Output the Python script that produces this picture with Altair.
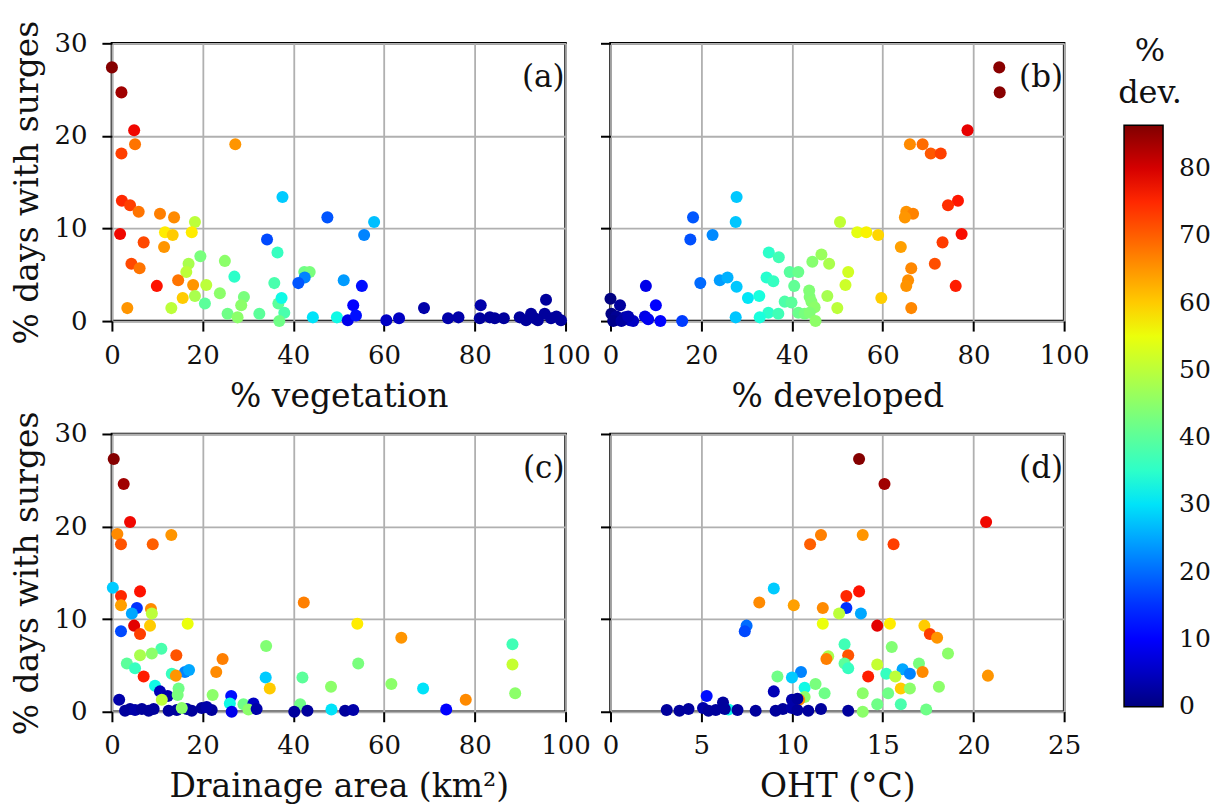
import altair as alt
import pandas as pd

FONT = "DejaVu Serif"

# ---------------- data ----------------
# (a) % vegetation vs % days with surges, colour = % developed
veg_x = [0, 2.1, 4.9, 5.1, 2.1, 27.2, 2.2, 4.0, 5.9, 10.6, 13.7, 18.3, 1.8, 11.7, 13.4, 17.6,
         37.6, 47.5, 57.8, 55.6, 34.2, 7.0, 11.5, 36.5, 19.5, 16.9, 24.9, 4.3, 6.1, 16.4,
         42.4, 43.6, 42.5, 27.0, 41.1, 51.1, 35.8, 55.1, 9.9, 14.6, 17.9, 20.8, 23.8, 15.6,
         18.3, 29.1, 28.5, 20.5, 36.7, 37.4, 3.4, 13.1, 25.5, 27.7, 32.5, 38.0, 36.9, 44.3,
         49.6, 53.2, 52.0, 53.8, 60.5, 63.3, 68.8, 74.1, 76.4, 81.3, 81.1, 83.3, 84.4, 86.4,
         89.9, 91.3, 92.4, 95.7, 95.4, 93.9, 96.8, 99.0, 98.0, 93.2]
veg_y = [27.4, 24.7, 20.6, 19.1, 18.1, 19.1, 13.0, 12.5, 11.8, 11.6, 11.2, 10.7, 9.4, 9.6, 9.3, 9.6,
         13.4, 11.2, 10.7, 9.3, 8.8, 8.5, 8.0, 7.4, 7.0, 6.2, 6.5, 6.2, 5.7, 5.3,
         5.3, 5.3, 4.7, 4.8, 4.1, 4.4, 4.1, 3.8, 3.8, 4.4, 3.9, 3.9, 3.0, 2.5,
         2.7, 2.6, 1.7, 1.9, 1.9, 2.5, 1.4, 1.4, 0.8, 0.4, 0.8, 0.9, 0.0, 0.4,
         0.4, 1.7, 0.1, 0.6, 0.1, 0.3, 1.4, 0.3, 0.4, 1.7, 0.3, 0.4, 0.3, 0.3,
         0.4, 0.1, 0.8, 2.3, 0.8, 0.1, 0.3, 0.1, 0.5, 0.3]
veg_dev = [86, 84, 78, 68, 73, 65, 75, 73, 68, 67, 66, 50, 78, 57, 60, 57,
           28, 18, 27, 22, 17, 72, 65, 36, 43, 48, 45, 72, 68, 50,
           42, 43, 22, 35, 18, 24, 38, 12, 77, 68, 65, 50, 45, 60,
           48, 43, 45, 40, 40, 32, 65, 50, 42, 45, 40, 38, 42, 30,
           32, 10, 8, 12, 5, 5, 3, 3, 3, 3, 2, 2, 2, 2,
           2, 2, 2, 2, 2, 2, 2, 2, 2, 2]

# (b) % developed vs % days with surges (colour = % developed itself)
dev_x = [85.7, 85.8, 78.7, 66.0, 68.8, 70.6, 72.8, 76.6, 74.4, 65.2, 66.7, 64.9, 50.6, 77.4,
         54.4, 56.4, 59.0, 27.8, 18.2, 27.6, 22.5, 17.6, 73.2, 64.0, 34.9, 37.1, 46.5, 44.5, 48.2,
         71.5, 66.3, 52.4, 39.5, 41.4, 24.1, 25.8, 34.4, 35.9, 65.6, 65.2, 76.1, 19.8, 27.8, 40.5, 51.8,
         43.8, 43.9, 47.8, 30.3, 32.8, 38.4, 39.9, 44.3, 45.0, 50.0, 59.7, 66.3, 34.8, 37.0, 41.4, 42.8,
         43.9, 32.9, 27.6, 45.2, 7.8, 10.0, 7.6, 11.0, 15.8, 0.0, 2.1, 0.2, 1.3, 3.2, 4.3, 5.0,
         0.6, 2.4, 8.3, 3.9]
dev_y = [27.4, 24.7, 20.6, 19.1, 19.1, 18.1, 18.1, 13.0, 12.5, 11.8, 11.6, 11.2, 10.7, 9.4,
         9.6, 9.6, 9.3, 13.4, 11.2, 10.7, 9.3, 8.8, 8.5, 8.0, 7.4, 6.9, 7.2, 6.4, 6.2,
         6.2, 5.7, 5.3, 5.3, 5.3, 4.4, 4.7, 4.7, 4.3, 4.4, 3.8, 3.8, 4.1, 3.7, 3.8, 3.9,
         3.3, 2.6, 2.7, 2.5, 2.7, 2.1, 2.0, 2.1, 1.5, 1.4, 2.5, 1.4, 0.9, 0.8, 0.9, 0.8,
         0.9, 0.4, 0.4, 0.0, 3.8, 1.7, 0.5, 0.0, 0.0, 2.4, 1.7, 0.8, 0.5, 0.4, 0.1, 0.0,
         0.0, 0.0, 0.2, 0.5]

# (c) drainage area (km2) vs % days with surges, colour = % developed
drain_x = [0.4, 2.6, 4.0, 1.2, 2.0, 9.0, 13.1, 0.2, 2.0, 6.2, 2.0, 5.5, 4.4, 8.6, 8.8,
           42.3, 16.7, 54.1, 8.4, 4.9, 2.0, 6.2, 63.8, 88.3, 10.9, 8.8, 6.2, 34.0, 14.2, 24.4,
           3.3, 5.1, 54.3, 88.3, 16.1, 17.0, 13.2, 14.1, 23.0, 7.0, 33.9, 42.0, 61.6, 68.6,
           48.3, 34.8, 9.5, 14.7, 78.0, 88.9, 22.2, 10.6, 12.3, 11.0, 14.5, 1.6, 26.3, 26.0,
           29.0, 31.2, 30.1, 41.5, 48.4, 73.7, 2.9, 4.0, 5.1, 6.6, 8.1, 9.2, 12.5, 14.3, 16.5,
           17.6, 19.8, 22.0, 26.4, 31.9, 40.2, 43.1, 51.4, 53.2, 15.4, 20.9]
drain_y = [27.3, 24.6, 20.5, 19.2, 18.1, 18.1, 19.1, 13.4, 12.5, 13.0, 11.5, 11.2, 10.6, 11.1, 10.6,
           11.8, 9.5, 9.5, 9.3, 9.3, 8.7, 8.4, 8.0, 7.3, 6.8, 6.3, 6.1, 7.1, 6.1, 5.7,
           5.2, 4.7, 5.2, 5.1, 4.3, 4.5, 4.1, 3.9, 4.3, 3.8, 3.7, 3.7, 3.0, 2.5,
           2.7, 2.5, 2.8, 2.5, 1.3, 2.0, 1.8, 2.2, 1.7, 1.3, 1.8, 1.3, 1.7, 0.9,
           0.8, 0.9, 0.25, 0.8, 0.25, 0.25, 0.1, 0.3, 0.2, 0.3, 0.1, 0.3, 0.1, 0.2, 0.3,
           0.1, 0.4, 0.2, 0.0, 0.3, 0.0, 0.1, 0.1, 0.2, 0.4, 0.5]
drain_dev = [86, 84, 78, 66, 71, 70, 65, 28, 75, 77, 64, 15, 25, 66, 50,
             67, 55, 57, 60, 79, 17, 73, 65, 37, 38, 45, 48, 44, 71, 67,
             40, 36, 43, 51, 22, 25, 36, 65, 66, 76, 28, 40, 45, 30,
             45, 60, 32, 42, 66, 45, 45, 4, 3, 50, 43, 3, 12, 32,
             42, 5, 45, 42, 30, 10, 2, 2, 3, 2, 2, 2, 2, 2, 2,
             2, 2, 2, 8, 3, 2, 2, 2, 3, 45, 3]

# (d) OHT (deg C) vs % days with surges, colour = % developed
oht_x = [13.7, 15.1, 20.7, 11.6, 13.9, 11.0, 15.6, 9.0, 13.7, 13.0, 8.2, 10.1, 11.7, 13.0, 12.6, 13.8,
         11.7, 14.7, 15.4, 17.3, 17.6, 18.0, 7.5, 7.4, 12.9, 15.5, 18.6, 13.1, 12.0, 11.9, 12.9, 13.1,
         14.7, 17.0, 16.1, 16.5, 17.2, 20.8, 14.2, 15.2, 15.7, 9.2, 10.5, 10.0, 16.0, 16.5, 18.1, 10.7,
         11.3, 11.8, 13.9, 15.3, 9.0, 5.3, 10.7, 10.4, 14.7, 16.0, 17.4, 6.5, 13.9,
         3.1, 3.8, 4.3, 5.1, 5.4, 5.8, 6.3, 7.0, 8.0, 9.1, 9.5, 10.0, 10.3, 10.9, 11.6, 13.1,
         6.2, 10.0, 10.3]
oht_y = [27.3, 24.6, 20.5, 19.1, 19.1, 18.1, 18.1, 13.3, 13.0, 12.5, 11.8, 11.5, 11.2, 11.2, 10.6, 10.6,
         9.5, 9.3, 9.5, 9.3, 8.4, 8.0, 9.3, 8.7, 7.3, 7.0, 6.3, 6.1, 6.0, 5.7, 5.2, 4.7,
         5.1, 5.2, 4.6, 4.1, 4.3, 3.9, 3.8, 4.1, 3.8, 3.8, 4.3, 3.7, 2.5, 2.5, 2.7, 2.6,
         3.0, 2.0, 2.0, 2.0, 2.2, 1.7, 1.6, 1.3, 0.8, 0.8, 0.25, 0.25, 0.0,
         0.2, 0.1, 0.3, 0.4, 0.1, 0.2, 0.3, 0.2, 0.1, 0.1, 0.3, 0.4, 0.2, 0.1, 0.3, 0.1,
         1.0, 1.3, 1.4]
oht_dev = [86, 84, 78, 67, 65, 70, 73, 28, 77, 75, 66, 64, 66, 15, 50, 25,
           55, 79, 57, 60, 73, 65, 20, 17, 37, 44, 45, 71, 48, 67, 40, 36,
           51, 43, 25, 22, 66, 65, 76, 36, 50, 42, 22, 28, 60, 45, 45, 32,
           43, 42, 45, 42, 4, 12, 45, 66, 42, 38, 42, 32, 45,
           2, 2, 2, 3, 2, 2, 2, 2, 2, 2, 2, 3, 2, 2, 2, 2,
           2, 3, 2]

pct_ticks = [0, 20, 40, 60, 80, 100]
oht_ticks = [0, 5, 10, 15, 20, 25]
y_ticks = [0, 10, 20, 30]
cbar_ticks = [0, 10, 20, 30, 40, 50, 60, 70, 80]

# jet colormap stops (style); the first stop sits a hair below 0 so that the
# "0" colourbar label is centred on the bar's bottom edge like matplotlib
jet_domain = [-0.1, 9.5, 10.8, 29.4, 30.2, 32.4, 55.3, 56.2, 57.0, 76.9, 78.6, 86.4]
jet_range = ["#000080", "#0000ff", "#0000ff", "#00dbff", "#00e5f7", "#14ffe2",
             "#eeff08", "#f7f500", "#ffec00", "#ff1300", "#e80000", "#800000"]

W, H = 454, 278

cscale = alt.Scale(domain=jet_domain, range=jet_range, interpolate="rgb", clamp=True)
legend = alt.Legend(
    title=None, orient="none", legendX=1013, legendY=82, direction="vertical",
    gradientLength=582, gradientThickness=39, gradientStrokeColor="black",
    gradientStrokeWidth=1.5, values=cbar_ticks, labelFont=FONT, labelFontSize=25,
    labelColor="#111111", labelOffset=16, labelOverlap=False,
)


def panel(x, y, c, xdomain, xticks, xtitle, label, show_y, extra=None):
    df = pd.DataFrame({"x": x, "y": y, "c": c})
    yaxis = alt.Axis(values=y_ticks, title="% days with surges", labels=True) if show_y \
        else alt.Axis(values=y_ticks, title=None, labels=False)
    pts = alt.Chart(df).mark_circle(size=145, opacity=1).encode(
        x=alt.X("x:Q", scale=alt.Scale(domain=xdomain, nice=False, zero=False),
                axis=alt.Axis(values=xticks, title=xtitle, labelFlush=False)),
        y=alt.Y("y:Q", scale=alt.Scale(domain=[0, 30], nice=False, zero=False), axis=yaxis),
        color=alt.Color("c:Q", scale=cscale, legend=legend),
    )
    lab = alt.Chart(pd.DataFrame({"t": [label]})).mark_text(
        font=FONT, fontSize=31, align="right", baseline="middle", color="#111111"
    ).encode(text="t:N", x=alt.value(W - 1), y=alt.value(35))
    layers = [pts, lab]
    if extra is not None:
        layers += extra
    return alt.layer(*layers).properties(width=W, height=H)


cbar_title = [
    alt.Chart(pd.DataFrame({"t": ["%"]})).mark_text(
        font=FONT, fontSize=32, align="center", baseline="middle", color="#111111"
    ).encode(text="t:N", x=alt.value(540), y=alt.value(8)),
    alt.Chart(pd.DataFrame({"t": ["dev."]})).mark_text(
        font=FONT, fontSize=32, align="center", baseline="middle", color="#111111"
    ).encode(text="t:N", x=alt.value(540), y=alt.value(50)),
]

pa = panel(veg_x, veg_y, veg_dev, [0, 100], pct_ticks, "% vegetation", "(a)", True)
pb = panel(dev_x, dev_y, dev_x, [0, 100], pct_ticks, "% developed", "(b)", False, cbar_title)
pc = panel(drain_x, drain_y, drain_dev, [0, 100], pct_ticks, "Drainage area (km²)", "(c)", True)
pd_ = panel(oht_x, oht_y, oht_dev, [0, 25], oht_ticks, "OHT (°C)", "(d)", False)

chart = alt.concat(
    pa, pb, pc, pd_, columns=2, spacing={"row": 113, "column": 45}, bounds="flush"
).resolve_scale(
    color="shared"
).properties(
    padding={"left": 2, "top": 10, "right": 0, "bottom": 5}, background="white"
).configure_axis(
    labelFont=FONT, titleFont=FONT, labelFontSize=26, titleFontSize=33,
    labelColor="#111111", titleColor="#111111", titleFontWeight="normal",
    gridColor="#b0b0b0", gridWidth=1.8, domain=False,
    tickColor="black", tickSize=10, tickWidth=2, labelPadding=11, titlePadding=12,
).configure_axisY(
    labelPadding=15, titlePadding=9
).configure_view(
    stroke="black", strokeWidth=2.5
)

chart.save("out.html", embed_options={"renderer": "svg", "actions": False})
